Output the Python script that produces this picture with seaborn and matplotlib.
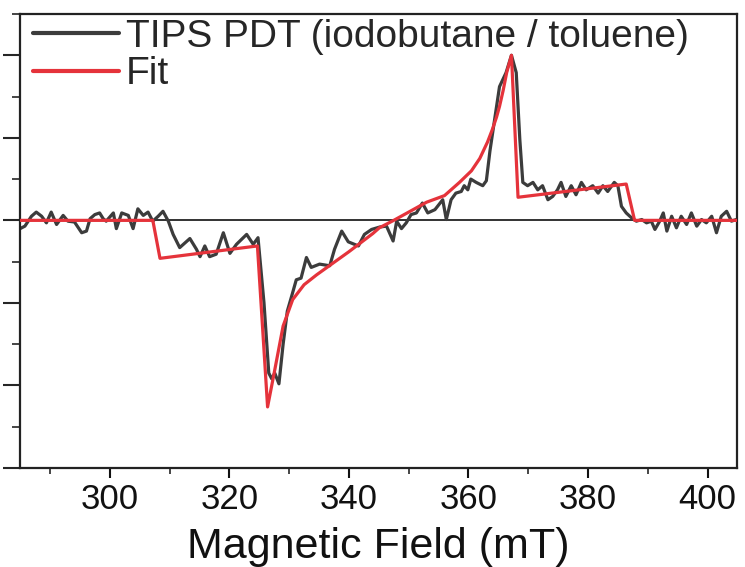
import matplotlib
matplotlib.use("Agg")
import matplotlib.pyplot as plt
from matplotlib.ticker import MultipleLocator, NullFormatter
import pandas as pd
import seaborn as sns

# Transient EPR spectrum (arbitrary intensity units) and its fit
field_exp = [285.0, 285.8, 286.9, 287.7, 288.6, 289.4, 290.2, 291.1, 292.2, 293.0,
             294.1, 295.3, 296.1, 296.7, 297.5, 298.3, 298.9, 299.4, 300.6, 301.1,
             302.0, 303.1, 303.9, 304.7, 305.6, 306.4, 307.2, 308.1, 308.9, 309.8,
             310.6, 311.7, 313.4, 314.5, 315.1, 315.9, 316.7, 317.8, 319.0, 320.1,
             321.2, 322.9, 324.0, 324.8, 325.8, 326.6, 327.1, 327.6, 328.3, 329.0,
             329.7, 330.5, 331.2, 332.0, 332.9, 333.7, 335.1, 336.8, 337.6, 338.8,
             339.9, 341.6, 342.6, 343.8, 345.2, 346.3, 347.4, 348.0, 348.8, 349.6,
             350.4, 351.3, 352.3, 353.2, 354.4, 355.7, 356.3, 357.1, 357.9, 358.8,
             359.3, 359.9, 360.4, 361.3, 362.4, 363.0, 363.6, 364.7, 365.2, 366.3,
             367.2, 368.0, 368.6, 369.1, 369.9, 370.8, 371.6, 372.4, 373.3, 374.1,
             374.9, 375.5, 376.3, 377.2, 378.0, 378.9, 379.7, 380.8, 381.7, 382.5,
             383.3, 384.4, 385.0, 385.6, 386.4, 387.3, 388.1, 389.0, 389.8, 390.6,
             391.2, 392.0, 392.6, 393.2, 394.0, 394.8, 395.6, 396.5, 397.3, 398.2,
             399.0, 399.8, 400.7, 401.5, 402.3, 403.2, 404.0, 404.8]
signal_exp = [-0.10, -0.07, 0.05, 0.10, 0.05, -0.03, 0.10, -0.05, 0.06, -0.01,
              -0.02, -0.15, -0.13, 0.02, 0.07, 0.09, 0.02, -0.01, 0.09, -0.10,
              0.09, 0.06, -0.10, 0.14, 0.06, 0.10, -0.01, 0.05, 0.11, -0.01,
              -0.17, -0.33, -0.22, -0.35, -0.44, -0.31, -0.44, -0.41, -0.15, -0.40,
              -0.29, -0.17, -0.29, -0.21, -1.00, -1.85, -1.92, -1.85, -1.98, -1.50,
              -1.10, -0.90, -0.72, -0.70, -0.45, -0.57, -0.53, -0.55, -0.35, -0.13,
              -0.26, -0.31, -0.17, -0.11, -0.08, -0.07, -0.25, -0.01, -0.10, -0.03,
              0.07, 0.09, 0.21, 0.09, 0.13, 0.25, 0.01, 0.25, 0.33, 0.35,
              0.42, 0.37, 0.50, 0.46, 0.42, 0.48, 0.84, 1.38, 1.62, 1.79,
              2.00, 1.79, 0.98, 0.46, 0.42, 0.46, 0.37, 0.42, 0.25, 0.29,
              0.37, 0.46, 0.29, 0.42, 0.31, 0.46, 0.37, 0.42, 0.33, 0.42,
              0.35, 0.46, 0.42, 0.17, 0.09, 0.03, -0.01, 0.01, -0.03, -0.01,
              -0.11, -0.01, 0.09, -0.13, 0.05, -0.09, 0.05, -0.05, 0.09, -0.07,
              0.01, -0.03, 0.05, -0.15, 0.05, 0.11, -0.01, 0.01]

field_fit = [285.0, 307.2, 308.4, 324.7, 326.4, 327.5, 329.0, 330.6, 332.5, 334.6,
             337.3, 340.0, 342.0, 344.0, 345.1, 347.5, 350.0, 353.0, 356.0, 358.5,
             360.5, 361.9, 363.2, 364.0, 364.7, 365.2, 365.8, 366.4, 367.2, 368.3,
             386.4, 387.8, 405.0]
signal_fit = [0.00, 0.00, -0.46, -0.31, -2.26, -1.85, -1.28, -0.96, -0.78, -0.66,
              -0.52, -0.38, -0.27, -0.16, -0.09, 0.00, 0.10, 0.22, 0.30, 0.46,
              0.60, 0.75, 0.95, 1.10, 1.25, 1.38, 1.57, 1.79, 2.00, 0.28,
              0.44, 0.00, 0.00]

label_exp = "TIPS PDT (iodobutane / toluene)"
label_fit = "Fit"

exp_df = pd.DataFrame({"field": field_exp, "signal": signal_exp})
fit_df = pd.DataFrame({"field": field_fit, "signal": signal_fit})

sns.set_style("ticks")
plt.rcParams["font.family"] = ["Liberation Sans", "DejaVu Sans"]

fig = plt.figure(figsize=(7.45, 5.67), dpi=100)
ax = fig.add_axes([0.027, 0.1746, 0.962, 0.8007])

ax.axhline(0, color="#222222", lw=1.3, zorder=1)
sns.lineplot(data=exp_df, x="field", y="signal", ax=ax, color="#3c3c3c",
             lw=2.3, estimator=None, sort=False, label=label_exp, zorder=2)
sns.lineplot(data=fit_df, x="field", y="signal", ax=ax, color="#e5333b",
             lw=2.3, estimator=None, sort=False, label=label_fit, zorder=3)

ax.set_xlim(285, 404.9)
ax.set_ylim(-3, 2.5)

ax.xaxis.set_major_locator(MultipleLocator(20))
ax.xaxis.set_minor_locator(MultipleLocator(10))
ax.yaxis.set_major_locator(MultipleLocator(1))
ax.yaxis.set_minor_locator(MultipleLocator(0.5))
ax.yaxis.set_major_formatter(NullFormatter())

ax.tick_params(axis="x", which="major", length=7, width=1.5, labelsize=25,
               pad=4, colors="#111111")
ax.tick_params(axis="x", which="minor", length=4, width=1.2)
ax.tick_params(axis="y", which="major", length=12, width=1.5)
ax.tick_params(axis="y", which="minor", length=6, width=1.2)

for spine in ax.spines.values():
    spine.set_visible(True)
    spine.set_linewidth(1.6)
    spine.set_color("#222222")

ax.set_xlabel("Magnetic Field (mT)", fontsize=31, labelpad=8, color="#111111")
ax.set_ylabel("")

leg = ax.legend(loc="upper left", frameon=False, fontsize=28,
                handlelength=2.2, handletextpad=0.18, labelspacing=0.05,
                borderaxespad=0.0, borderpad=0.0,
                bbox_to_anchor=(0.018, 0.99))
for h in leg.get_lines():
    h.set_linewidth(3)

fig.savefig("out.png", dpi=100)
